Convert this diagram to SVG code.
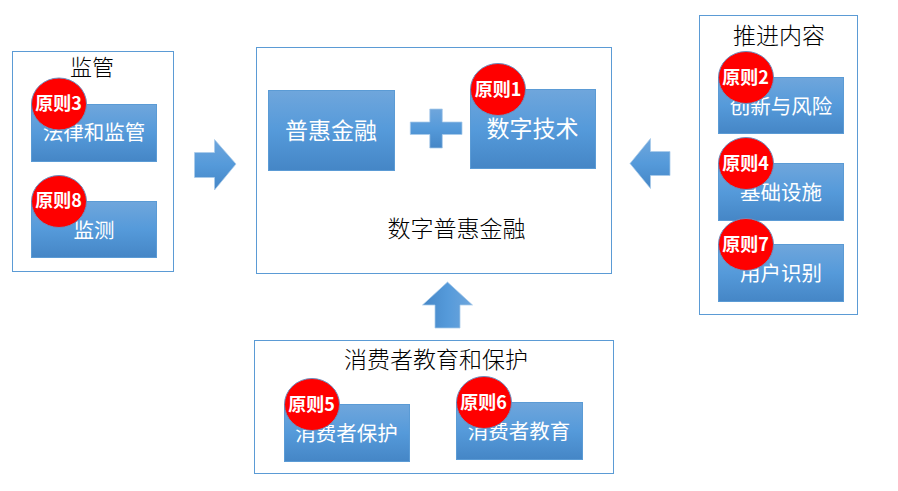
<svg xmlns="http://www.w3.org/2000/svg" width="898" height="491" viewBox="0 0 898 491">
  <defs>
    <linearGradient id="fillV" x1="0" y1="0" x2="0" y2="1">
      <stop offset="0" stop-color="#6fa6dc"/>
      <stop offset="0.5" stop-color="#559ada"/>
      <stop offset="1" stop-color="#4586c6"/>
    </linearGradient>
    <linearGradient id="fillH" x1="1" y1="0" x2="0" y2="0">
      <stop offset="0" stop-color="#6fa6dc"/>
      <stop offset="0.5" stop-color="#559ada"/>
      <stop offset="1" stop-color="#4586c6"/>
    </linearGradient>
  </defs>
  <style>
    text { font-family: "Noto Sans CJK SC", "Liberation Sans", sans-serif; text-anchor: middle; font-weight: 300; }
    .group { fill: #fff; stroke: #5b9bd5; stroke-width: 1; }
    .box { fill: url(#fillV); stroke: #5b9bd5; stroke-width: 1; }
    .arrow { fill: url(#fillV); stroke: #a9cbea; stroke-width: 0.75; }
    .arrow-up { fill: url(#fillH); stroke: #a9cbea; stroke-width: 0.75; }
    .badge { fill: #ff0000; stroke: #6c8ebf; stroke-width: 1; }
    .title { font-size: 23px; fill: #000; }
    .title-small { font-size: 22px; fill: #000; }
    .label-large { font-size: 23px; fill: #fff; font-weight: 400; }
    .label { font-size: 20.500px; fill: #fff; font-weight: 400; }
    .badge-text { font-size: 18px; font-weight: 700; fill: #fff; }
  </style>

  <g id="regulation">
    <rect class="group" x="12.500" y="51.500" width="161" height="220"/>
    <text class="title-small" x="92" y="75">监管</text>
  </g>
  <g id="digital-inclusive-finance">
    <rect class="group" x="256.500" y="47.500" width="355" height="226"/>
    <text class="title" x="456.500" y="237">数字普惠金融</text>
  </g>
  <g id="promotion">
    <rect class="group" x="699.500" y="15.500" width="158" height="299"/>
    <text class="title" x="779" y="44">推进内容</text>
  </g>
  <g id="consumer">
    <rect class="group" x="254.500" y="340.500" width="359" height="133"/>
    <text class="title" x="436" y="368">消费者教育和保护</text>
  </g>

  <g id="connectors">
    <path class="arrow" d="M194.500 152.500H214.500V139.500L236 164L214.500 190V177.500H194.500Z"/>
    <path class="arrow" d="M670 151.500H650.500V138.500L630 163.500L650.500 188.500V175.500H670Z"/>
    <path class="arrow-up" d="M435 328V305H422.500L447.500 282L472.500 305H460V328Z"/>
    <path class="arrow" d="M429.800 109H442.300V122H462V134.500H442.300V148H429.800V134.500H410.300V122H429.800Z"/>
  </g>

  <g id="node-finance">
    <rect class="box" x="268.500" y="90.500" width="126" height="80"/>
    <text class="label-large" x="331" y="139">普惠金融</text>
  </g>
  <g id="node-tech">
    <rect class="box" x="470.500" y="89.500" width="125" height="79"/>
    <text class="label-large" x="532.500" y="137">数字技术</text>
    <ellipse class="badge" cx="498" cy="89.500" rx="27.500" ry="26"/>
    <text class="badge-text" x="498" y="96">原则1</text>
  </g>
  <g id="node-law">
    <rect class="box" x="31.500" y="104.500" width="125" height="57"/>
    <text class="label" x="94" y="140">法律和监管</text>
    <ellipse class="badge" cx="59" cy="104" rx="27.500" ry="26"/>
    <text class="badge-text" x="58.500" y="110">原则3</text>
  </g>
  <g id="node-monitor">
    <rect class="box" x="31.500" y="201.500" width="125" height="56"/>
    <text class="label" x="94" y="238">监测</text>
    <ellipse class="badge" cx="59" cy="201.500" rx="27.500" ry="26"/>
    <text class="badge-text" x="58.500" y="207">原则8</text>
  </g>
  <g id="node-innovation">
    <rect class="box" x="718.500" y="77.500" width="125" height="56"/>
    <text class="label" x="781" y="114">创新与风险</text>
    <ellipse class="badge" cx="746" cy="77.500" rx="27.500" ry="26"/>
    <text class="badge-text" x="745.500" y="84">原则2</text>
  </g>
  <g id="node-infrastructure">
    <rect class="box" x="718.500" y="163.500" width="125" height="57"/>
    <text class="label" x="781" y="200">基础设施</text>
    <ellipse class="badge" cx="746" cy="163.500" rx="27.500" ry="26"/>
    <text class="badge-text" x="745.500" y="170">原则4</text>
  </g>
  <g id="node-identity">
    <rect class="box" x="718.500" y="244.500" width="125" height="57"/>
    <text class="label" x="781" y="281">用户识别</text>
    <ellipse class="badge" cx="746" cy="244.500" rx="27.500" ry="26"/>
    <text class="badge-text" x="745.500" y="251">原则7</text>
  </g>
  <g id="node-protection">
    <rect class="box" x="284.500" y="404.500" width="125" height="57"/>
    <text class="label" x="346.500" y="441">消费者保护</text>
    <ellipse class="badge" cx="312" cy="404.500" rx="27.500" ry="26"/>
    <text class="badge-text" x="311.500" y="410.500">原则5</text>
  </g>
  <g id="node-education">
    <rect class="box" x="456.500" y="402.500" width="126" height="57"/>
    <text class="label" x="519" y="439">消费者教育</text>
    <ellipse class="badge" cx="484" cy="402.500" rx="27.500" ry="26"/>
    <text class="badge-text" x="483.500" y="409">原则6</text>
  </g>
</svg>
